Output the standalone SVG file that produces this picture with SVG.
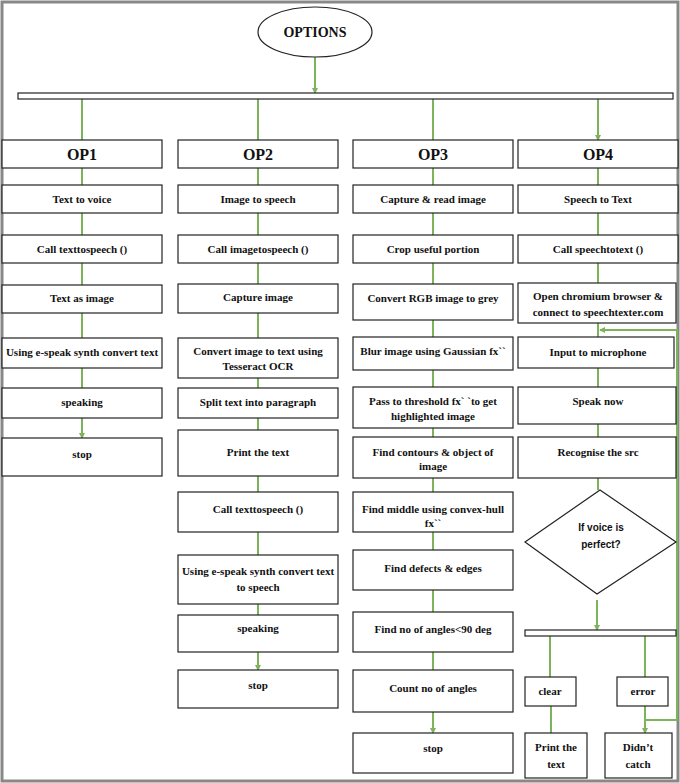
<svg xmlns="http://www.w3.org/2000/svg" width="680" height="783" viewBox="0 0 680 783">
<style>
.b{fill:#fff;stroke:#222;stroke-width:1.2}
.t{font-family:"Liberation Serif",serif;font-weight:bold;font-size:11px;fill:#111;text-anchor:middle}
.h{font-size:16px}
.c{stroke:#7db35a;stroke-width:2;fill:none}
.a{fill:#7db35a}
</style>
<defs><marker id="m" markerWidth="6" markerHeight="6" refX="5" refY="3" orient="auto" markerUnits="userSpaceOnUse"><path d="M0,0L6,3L0,6z" class="a"/></marker></defs>
<rect x="0" y="0" width="680" height="783" fill="#fff"/>
<rect x="2" y="2" width="676" height="779" fill="none" stroke="#888" stroke-width="3"/>
<g id="connectors">
<path class="c" marker-end="url(#m)" d="M315 57V93"/>
<path class="c" marker-end="url(#m)" d="M82 99V140M258 99V140M433 99V140M598 99V140"/>
<path class="c" marker-end="url(#m)" d="M82 168V185M82 213V235M82 263V285M82 313V338M82 368V388M82 418V438"/>
<path class="c" marker-end="url(#m)" d="M258 168V185M258 213V235M258 263V284M258 313V338M258 378V388M258 418V430M258 476V492M258 532V555M258 604V615M258 652V670"/>
<path class="c" marker-end="url(#m)" d="M433 168V185M433 213V235M433 263V284M433 320V337M433 370V387M433 428V437M433 478V492M433 532V550M433 590V612M433 652V670M433 712V733"/>
<path class="c" marker-end="url(#m)" d="M598 168V185M598 213V235M598 263V283M598 323V337M598 368V387M598 424V437M598 478V490M597 600V630"/>
<path class="c" marker-end="url(#m)" d="M550 636V677M645 636V677M551 706V733M645 706V733"/>
<path class="c" marker-end="url(#m)" d="M645 720H677V330H600"/>
</g>
<g id="options"><ellipse cx="315" cy="32" rx="57" ry="25" class="b"/><text x="315" y="37" class="t h" style="font-size:14px">OPTIONS</text></g>
<g id="bus"><rect x="18" y="93" width="655" height="6" class="b"/></g>
<g id="op1"><rect x="2" y="140" width="160" height="28" class="b"/><text x="82" y="160" class="t h">OP1</text></g>
<g id="op2"><rect x="178" y="140" width="160" height="28" class="b"/><text x="258" y="160" class="t h">OP2</text></g>
<g id="op3"><rect x="353" y="140" width="160" height="28" class="b"/><text x="433" y="160" class="t h">OP3</text></g>
<g id="op4"><rect x="518" y="140" width="160" height="28" class="b"/><text x="598" y="160" class="t h">OP4</text></g>

<g id="c1n1"><rect x="2" y="185" width="160" height="28" class="b"/><text x="82" y="203" class="t">Text to voice</text></g>
<g id="c1n2"><rect x="2" y="235" width="160" height="28" class="b"/><text x="82" y="253" class="t">Call texttospeech ()</text></g>
<g id="c1n3"><rect x="2" y="285" width="160" height="28" class="b"/><text x="82" y="302" class="t">Text as image</text></g>
<g id="c1n4"><rect x="2" y="338" width="160" height="30" class="b"/><text x="82" y="356" class="t">Using e-speak synth convert text</text></g>
<g id="c1n5"><rect x="2" y="388" width="160" height="30" class="b"/><text x="82" y="406" class="t">speaking</text></g>
<g id="c1n6"><rect x="2" y="438" width="160" height="38" class="b"/><text x="82" y="458" class="t">stop</text></g>

<g id="c2n1"><rect x="178" y="185" width="160" height="28" class="b"/><text x="258" y="203" class="t">Image to speech</text></g>
<g id="c2n2"><rect x="178" y="235" width="160" height="28" class="b"/><text x="258" y="253" class="t">Call imagetospeech ()</text></g>
<g id="c2n3"><rect x="178" y="284" width="160" height="29" class="b"/><text x="258" y="301" class="t">Capture image</text></g>
<g id="c2n4"><rect x="178" y="338" width="160" height="40" class="b"/><text x="258" y="355" class="t">Convert image to text using</text><text x="258" y="370" class="t">Tesseract OCR</text></g>
<g id="c2n5"><rect x="178" y="388" width="160" height="30" class="b"/><text x="258" y="406" class="t">Split text into paragraph</text></g>
<g id="c2n6"><rect x="178" y="430" width="160" height="46" class="b"/><text x="258" y="456" class="t">Print the text</text></g>
<g id="c2n7"><rect x="178" y="492" width="160" height="40" class="b"/><text x="258" y="513" class="t">Call texttospeech ()</text></g>
<g id="c2n8"><rect x="178" y="555" width="160" height="49" class="b"/><text x="258" y="575" class="t">Using e-speak synth convert text</text><text x="258" y="591" class="t">to speech</text></g>
<g id="c2n9"><rect x="178" y="615" width="160" height="37" class="b"/><text x="258" y="632" class="t">speaking</text></g>
<g id="c2n10"><rect x="178" y="670" width="160" height="38" class="b"/><text x="258" y="689" class="t">stop</text></g>

<g id="c3n1"><rect x="353" y="185" width="160" height="28" class="b"/><text x="433" y="203" class="t">Capture &amp; read image</text></g>
<g id="c3n2"><rect x="353" y="235" width="160" height="28" class="b"/><text x="433" y="253" class="t">Crop useful portion</text></g>
<g id="c3n3"><rect x="353" y="284" width="160" height="36" class="b"/><text x="433" y="302" class="t">Convert RGB image to grey</text></g>
<g id="c3n4"><rect x="353" y="337" width="160" height="33" class="b"/><text x="433" y="355" class="t">Blur image using Gaussian fx``</text></g>
<g id="c3n5"><rect x="353" y="387" width="160" height="41" class="b"/><text x="433" y="405" class="t">Pass to threshold fx` `to get</text><text x="433" y="420" class="t">highlighted image</text></g>
<g id="c3n6"><rect x="353" y="437" width="160" height="41" class="b"/><text x="433" y="456" class="t">Find contours &amp; object of</text><text x="433" y="470" class="t">image</text></g>
<g id="c3n7"><rect x="353" y="492" width="160" height="40" class="b"/><text x="433" y="513" class="t">Find middle using convex-hull</text><text x="433" y="527" class="t">fx``</text></g>
<g id="c3n8"><rect x="353" y="550" width="160" height="40" class="b"/><text x="433" y="572" class="t">Find defects &amp; edges</text></g>
<g id="c3n9"><rect x="353" y="612" width="160" height="40" class="b"/><text x="433" y="633" class="t">Find no of angles&lt;90 deg</text></g>
<g id="c3n10"><rect x="353" y="670" width="160" height="42" class="b"/><text x="433" y="692" class="t">Count no of angles</text></g>
<g id="c3n11"><rect x="353" y="733" width="160" height="40" class="b"/><text x="433" y="752" class="t">stop</text></g>

<g id="c4n1"><rect x="518" y="185" width="160" height="28" class="b"/><text x="598" y="203" class="t">Speech to Text</text></g>
<g id="c4n2"><rect x="518" y="235" width="160" height="28" class="b"/><text x="598" y="253" class="t">Call speechtotext ()</text></g>
<g id="c4n3"><rect x="518" y="283" width="158" height="40" class="b"/><text x="598" y="300" class="t">Open chromium browser &amp;</text><text x="598" y="316" class="t">connect to speechtexter.com</text></g>
<g id="c4n4"><rect x="518" y="337" width="156" height="31" class="b"/><text x="598" y="356" class="t">Input to microphone</text></g>
<g id="c4n5"><rect x="518" y="387" width="158" height="37" class="b"/><text x="598" y="405" class="t">Speak now</text></g>
<g id="c4n6"><rect x="518" y="437" width="158" height="41" class="b"/><text x="598" y="456" class="t">Recognise the src</text></g>
<g id="c4d"><path d="M600 490L676 542L597 594L525 542Z" class="b"/><text x="601" y="531" class="t" style="font-family:'Liberation Sans',sans-serif;font-size:10px">If voice is</text><text x="601" y="548" class="t" style="font-family:'Liberation Sans',sans-serif;font-size:10px">perfect?</text></g>
<g id="c4bar"><rect x="525" y="630" width="151" height="6" class="b"/></g>
<g id="clear"><rect x="525" y="677" width="51" height="29" class="b"/><text x="550" y="695" class="t">clear</text></g>
<g id="error"><rect x="617" y="677" width="51" height="29" class="b"/><text x="643" y="695" class="t">error</text></g>
<g id="print"><rect x="525" y="733" width="62" height="45" class="b"/><text x="556" y="751" class="t">Print the</text><text x="556" y="768" class="t">text</text></g>
<g id="didnt"><rect x="605" y="733" width="67" height="45" class="b"/><text x="638" y="751" class="t">Didn’t</text><text x="638" y="768" class="t">catch</text></g>
</svg>
